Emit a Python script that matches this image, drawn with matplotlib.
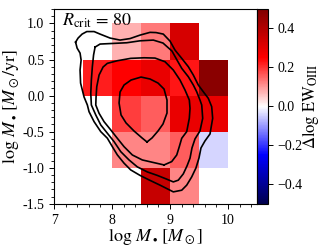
import numpy as np
import matplotlib
matplotlib.use("Agg")
import matplotlib.pyplot as plt

plt.rcParams['font.family'] = ['Liberation Serif', 'DejaVu Serif']
plt.rcParams['mathtext.fontset'] = 'stix'

# bin edges of the 2d grid
x_edges = [7.5, 8.0, 8.5, 9.0, 9.5, 10.0]
y_edges = [-1.5, -1.0, -0.5, 0.0, 0.5, 1.0]
nan = np.nan
# delta log EW_OIII per bin, rows from bottom (y=-1.5) to top
dlogew = np.array([
    [nan, nan, 0.36, 0.12, nan],
    [nan, 0.12, 0.12, 0.16, -0.04],
    [nan, 0.19, 0.16, 0.29, 0.29],
    [0.22, 0.25, 0.29, 0.23, 0.48],
    [nan, 0.075, 0.13, 0.33, nan],
])

# density contours (log Mbh, log Mdot)
c1_x = [7.371, 7.397, 7.448, 7.466, 7.448, 7.457, 7.517, 7.574, 7.603, 7.690, 7.805, 7.919,
        8.005, 8.091, 8.207, 8.322, 8.483, 8.655, 8.828, 9.057, 9.202, 9.288, 9.374, 9.448,
        9.500, 9.534, 9.603, 9.690, 9.736, 9.719, 9.660, 9.574, 9.488, 9.402, 9.316, 9.202,
        9.086, 9.000, 8.884, 8.759, 8.655, 8.483, 8.310, 8.138, 7.966, 7.793, 7.690, 7.564,
        7.483, 7.414]
c1_y = [0.741, 0.658, 0.589, 0.492, 0.354, 0.174, -0.019, -0.130, -0.223, -0.361, -0.499, -0.590,
        -0.707, -0.821, -0.936, -1.029, -1.105, -1.174, -1.240, -1.333, -1.310, -1.240, -1.126, -1.001,
        -0.863, -0.725, -0.628, -0.531, -0.314, -0.153, -0.037, 0.054, 0.147, 0.285, 0.400, 0.516,
        0.631, 0.755, 0.852, 0.873, 0.876, 0.838, 0.790, 0.769, 0.797, 0.852, 0.887, 0.887,
        0.852, 0.797]
c2_x = [7.707, 7.681, 7.660, 7.643, 7.633, 7.643, 7.719, 7.805, 7.919, 8.034, 8.150, 8.293,
        8.436, 8.609, 8.781, 8.931, 9.057, 9.143, 9.229, 9.293, 9.345, 9.379, 9.431, 9.517,
        9.564, 9.547, 9.517, 9.460, 9.402, 9.316, 9.202, 9.121, 9.034, 8.879, 8.712, 8.483,
        8.253, 8.022, 7.793]
c2_y = [0.672, 0.562, 0.400, 0.216, 0.032, -0.130, -0.268, -0.406, -0.521, -0.637, -0.776, -0.891,
        -0.987, -1.057, -1.105, -1.153, -1.195, -1.171, -1.084, -0.974, -0.867, -0.725, -0.600, -0.489,
        -0.314, -0.130, -0.061, 0.054, 0.147, 0.261, 0.378, 0.492, 0.617, 0.728, 0.769, 0.759,
        0.732, 0.723, 0.714]
c3_x = [8.897, 8.695, 8.522, 8.350, 8.207, 8.091, 7.978, 7.862, 7.776, 7.719, 7.724, 7.736,
        7.776, 7.845, 7.919, 8.091, 8.322, 8.552, 8.741, 8.914, 9.057, 9.172, 9.259, 9.333,
        9.345, 9.333, 9.288, 9.202, 9.160, 9.116, 9.029]
c3_y = [-0.960, -0.923, -0.891, -0.822, -0.707, -0.591, -0.476, -0.361, -0.245, -0.130, -0.019, 0.123,
        0.285, 0.396, 0.447, 0.483, 0.516, 0.524, 0.520, 0.469, 0.354, 0.216, 0.077, -0.061,
        -0.176, -0.314, -0.499, -0.591, -0.707, -0.822, -0.914]
c4_x = [8.603, 8.690, 8.793, 8.879, 8.948, 8.948, 8.897, 8.793, 8.655, 8.500, 8.328, 8.207,
        8.138, 8.121, 8.155, 8.241, 8.379, 8.517]
c4_y = [-0.642, -0.586, -0.490, -0.393, -0.241, -0.061, 0.091, 0.174, 0.230, 0.257, 0.216, 0.147,
        0.050, -0.102, -0.268, -0.378, -0.490, -0.586]
contours = [(c1_x, c1_y), (c2_x, c2_y), (c3_x, c3_y), (c4_x, c4_y)]

y_ticks = [-1.5, -1.0, -0.5, 0.0, 0.5, 1.0]
y_ticklabels = ['-1.5', '-1.0', '-0.5', '0.0', '0.5', '1.0']
x_ticks = [7, 8, 9, 10]
cb_ticks = [-0.4, -0.2, 0.0, 0.2, 0.4]

fig = plt.figure(figsize=(3.22, 2.49), dpi=100)
ax = fig.add_axes([0.168, 0.181, 0.630, 0.783])
cax = fig.add_axes([0.798, 0.181, 0.034, 0.783])

mesh = ax.pcolormesh(x_edges, y_edges, np.ma.masked_invalid(dlogew), cmap='seismic',
                     vmin=-0.5, vmax=0.5)
for cx, cy in contours:
    ax.plot(list(cx) + [cx[0]], list(cy) + [cy[0]], color='k', lw=1.2)

ax.set_xlim(7, 10.5)
ax.set_ylim(-1.5, 1.2)
ax.set_xticks(x_ticks)
ax.set_yticks(y_ticks)
ax.set_yticklabels(y_ticklabels)
ax.xaxis.set_minor_locator(matplotlib.ticker.MultipleLocator(0.2))
ax.yaxis.set_minor_locator(matplotlib.ticker.MultipleLocator(0.1))
ax.tick_params(labelsize=10, length=3.5, width=0.7)
ax.tick_params(which='minor', length=2, width=0.6)
ax.set_xlabel(r'$\log\,M_\bullet\,[M_\odot]$', fontsize=13, labelpad=0)
ax.set_ylabel(r'$\log\,\dot{M}_\bullet\,[M_\odot/\mathrm{yr}]$', fontsize=13, labelpad=0)
ax.text(0.04, 0.985, r'$R_{\rm crit}\,=\,80$', transform=ax.transAxes, fontsize=13,
        va='top', ha='left')

cb = fig.colorbar(mesh, cax=cax, ticks=cb_ticks)
cb.ax.tick_params(labelsize=10, length=3.5, width=0.7)
cb.set_label(r'$\Delta\log\,\mathrm{EW_{OIII}}$', fontsize=12, labelpad=-2)

fig.savefig('out.png', dpi=100)
